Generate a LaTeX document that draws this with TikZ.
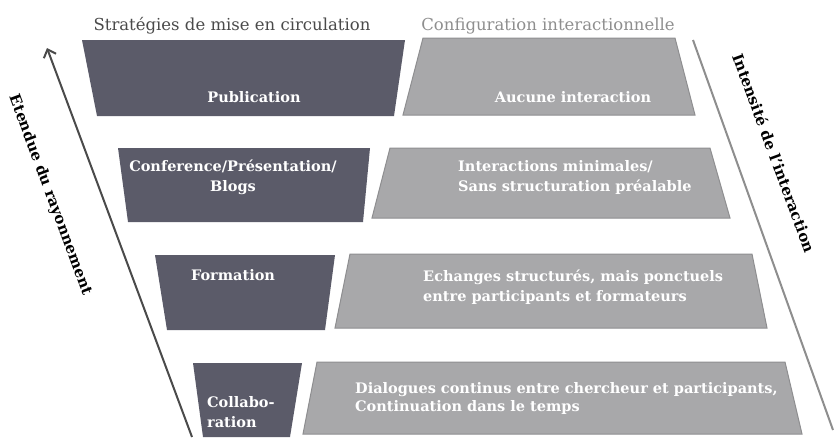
\documentclass[tikz,border=0pt]{standalone}
\usepackage{fontspec}
\setmainfont{DejaVu Serif}
\usepackage{tikz}
\usetikzlibrary{arrows,arrows.meta}

\definecolor{slatebox}{HTML}{5B5B69}
\definecolor{greybox}{HTML}{A8A8AA}
\definecolor{greyedge}{HTML}{8E8E90}
\definecolor{titledark}{HTML}{4A4A4A}
\definecolor{titlelight}{HTML}{8E8E8E}

\tikzset{
  darkbox/.style={fill=slatebox},
  lightbox/.style={fill=greybox, draw=greyedge, line width=1pt},
  boxtext/.style={text=white, font=\fontsize{14.5}{20}\selectfont\bfseries, inner sep=0pt},
  headtext/.style={font=\fontsize{16.5}{18}\selectfont, inner sep=0pt},
  axislabel/.style={font=\fontsize{15}{17}\selectfont\bfseries, inner sep=0pt},
}

\begin{document}
\begin{tikzpicture}[x=1pt, y=-1pt]
\useasboundingbox (0,0) rectangle (835,437);

% strategies (dark) and interactions (light)
\foreach \tl/\tr/\br/\bl/\t/\b in {82/405/394/97/40/116, 118/370/363/128/148/222,
                                     155/335/325/167/255/330, 193/302/290/203/363/437}
    \fill[darkbox] (\tl,\t) -- (\tr,\t) -- (\br,\b) -- (\bl,\b) -- cycle;

\foreach \tl/\tr/\br/\bl/\t/\b in {423/675/695/403/38/115, 390/710/730/372/148/218,
                                     350/752/767/335/254/328, 317/785/802/303/362/434}
    \filldraw[lightbox] (\tl,\t) -- (\tr,\t) -- (\br,\b) -- (\bl,\b) -- cycle;

\node[headtext, text=titledark](strat) at (232,26) {Stratégies de mise en circulation};
\node[headtext, text=titlelight](config) at (548,26) {Configuration interactionnelle};

\node[boxtext](s1) at (254,97) {Publication};
\node[boxtext, align=center](s2) at (233,177) {Conference/Présentation/\\Blogs};
\node[boxtext](s3) at (233,275) {Formation};
\node[boxtext, align=left, anchor=west](s4) at (207,412) {Collabo-\\ration};

\node[boxtext](i1) at (573,97) {Aucune interaction};
\node[boxtext, align=left, anchor=west](i2) at (458,177) {Interactions minimales/\\Sans structuration préalable};
\node[boxtext, align=left, anchor=west](i3) at (423,287) {Echanges structurés, mais ponctuels\\entre participants et formateurs};
\node[boxtext, align=left, anchor=west, font=\fontsize{14.5}{18}\selectfont\bfseries](i4) at (355,398) {Dialogues continus entre chercheur et participants,\\Continuation dans le temps};

\coordinate (e1) at (192,437);
\coordinate (e2) at (47,48);
\coordinate (n1) at (693,40);
\coordinate (n2) at (833,430);

\draw[-{Straight Barb[length=7pt,width=13pt]}, line width=2pt, color=titledark] (e1) -- (e2);
\draw[line width=2pt, color=titlelight] (n1) -- (n2);

\node[axislabel, rotate=-69.6](etendue) at (50,195) {Etendue du rayonnement};
\node[axislabel, rotate=-69.7](intensite) at (774,153) {Intensité de l'interaction};

\end{tikzpicture}
\end{document}
